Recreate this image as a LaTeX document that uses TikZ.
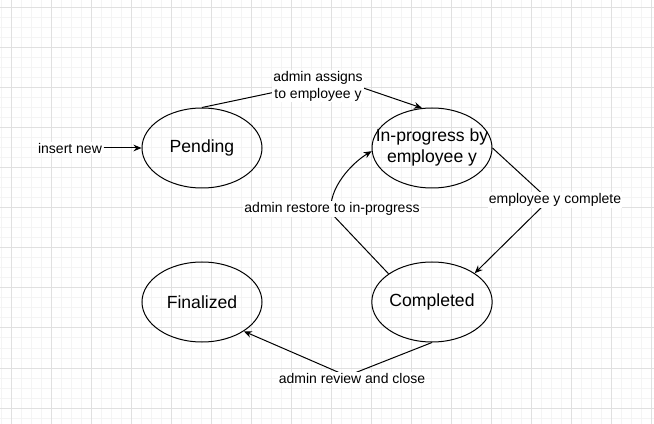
\documentclass[tikz,border=0pt]{standalone}
\usepackage{fontspec}
\setmainfont{Liberation Sans}
\usetikzlibrary{shapes.geometric}
\usetikzlibrary{arrows.meta}
\definecolor{gridmaj}{HTML}{E0E0E0}
\definecolor{gridmin}{HTML}{F4F4F4}
\begin{document}
\begin{tikzpicture}[x=0.75pt, y=-0.75pt, >={Stealth[length=6pt,width=5pt]},
  state/.style={draw, ellipse, line width=0.75pt, minimum width=90pt, minimum height=60pt, inner sep=0pt, font=\fontsize{13.2}{15.8}\selectfont},
  lbl/.style={fill=white, inner sep=1pt, align=center, font=\fontsize{10.5}{12.75}\selectfont},
  edge/.style={->, line width=0.75pt}]
\useasboundingbox (0,0) rectangle (654,424);
% grid
\foreach \x in {1,11,...,651} \draw[gridmin, line width=0.75pt] (\x,0) -- (\x,424);
\foreach \y in {8,18,...,418} \draw[gridmin, line width=0.75pt] (0,\y) -- (654,\y);
\foreach \x in {11,51,...,651} \draw[gridmaj, line width=0.75pt] (\x,0) -- (\x,424);
\foreach \y in {8,48,...,408} \draw[gridmaj, line width=0.75pt] (0,\y) -- (654,\y);
\node[state] (pend) at (202,148) {Pending};
\node[state] (inprog) at (432,148) {\makebox[0pt]{\begin{tabular}{@{}c@{}}In-progress by\\employee y\end{tabular}}};
\node[state] (fin) at (202,302) {Finalized};
\node[state] (comp) at (432,302) {Completed};
\node[lbl] (ins) at (70,148) {insert new};
\coordinate (asg) at (337,79);
\coordinate (cpl) at (549,200);
\coordinate (rst) at (331,213);
\coordinate (rvw) at (347,376);
\draw[edge] (ins) -- (pend);
\draw[edge] (pend.north) -- (asg) -- (inprog.104);
\draw[edge] (inprog.east) -- (cpl) -- (comp.34);
\draw[edge] (comp.147) -- (rst) .. controls (328,188) and (352,163) .. (inprog.183);
\draw[edge] (comp.south) -- (rvw) -- (fin.-35);
\node[lbl] (asglbl) at (318,86) {admin assigns\\to employee y};
\node[lbl] (cpllbl) at (555,200) {employee y complete};
\node[lbl] (rstlbl) at (332,209) {admin restore to in-progress};
\node[lbl] (rvwlbl) at (352,378) {admin review and close};
\end{tikzpicture}
\end{document}
